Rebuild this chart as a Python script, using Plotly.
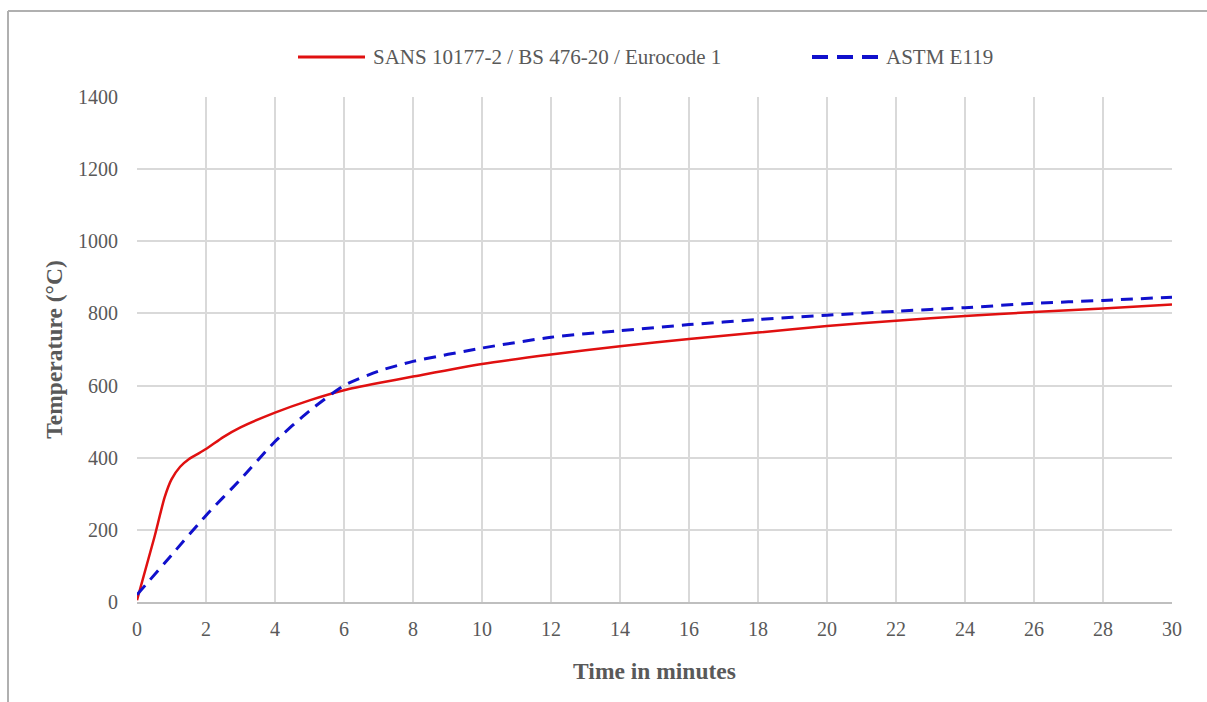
import plotly.graph_objects as go

# Data
red_name = "SANS 10177-2 / BS 476-20 / Eurocode 1"
red_t = [0, 0.5, 0.8, 1.0, 1.25, 1.5, 2, 2.5, 3, 4, 5, 6, 7, 8, 10, 12, 14, 16, 18, 20, 22, 24, 26, 28, 30]
red_T = [5, 178, 290, 340, 375, 396, 424, 457, 484, 525, 559, 587, 607, 625, 660, 686, 709, 729, 747, 765, 780, 793, 804, 814, 825]

blue_name = "ASTM E119"
blue_t = [0, 1, 2, 3, 4, 5, 6, 7, 8, 10, 12, 14, 16, 18, 20, 22, 24, 26, 28, 30]
blue_T = [20, 130, 240, 340, 445, 530, 600, 640, 667, 704, 734, 752, 769, 783, 795, 806, 816, 828, 836, 845]

x_ticks = list(range(0, 31, 2))
y_ticks = list(range(0, 1401, 200))

FONT = "Liberation Serif, Times New Roman, serif"
GRAY = "#595959"
RED = "#e01010"
BLUE = "#1010cc"

# plot area in pixels (for placing the legend / border in paper units)
L, R, T, B = 137, 1172, 97, 602
def px(x):
    return (x - L) / (R - L)
def py(y):
    return (B - y) / (B - T)

fig = go.Figure()
fig.add_trace(go.Scatter(x=red_t, y=red_T, mode="lines", name=red_name, showlegend=False,
                         line=dict(color=RED, width=2.5, shape="spline", smoothing=0.6)))
fig.add_trace(go.Scatter(x=blue_t, y=blue_T, mode="lines", name=blue_name, showlegend=False,
                         line=dict(color=BLUE, width=3, dash="12px,8px", shape="spline", smoothing=0.6)))

fig.update_layout(
    width=1207, height=702,
    margin=dict(l=L, r=1207 - R, t=T, b=702 - B, autoexpand=False),
    paper_bgcolor="white", plot_bgcolor="white",
    font=dict(family=FONT, color=GRAY, size=20),
    showlegend=False,
    xaxis=dict(range=[0, 30], tickvals=x_ticks, showgrid=True, gridcolor="#d9d9d9", gridwidth=2,
               zeroline=False, showline=True, linecolor="#bfbfbf", linewidth=2,
               ticklabelstandoff=8,
               tickfont=dict(size=20, color=GRAY, family=FONT),
               title=dict(text="<b>Time in minutes</b>", standoff=24,
                          font=dict(size=23.5, color=GRAY, family=FONT))),
    yaxis=dict(range=[0, 1400], tickvals=y_ticks, showgrid=True, gridcolor="#d9d9d9", gridwidth=2,
               zeroline=False, showline=False,
               ticklabelstandoff=18,
               tickfont=dict(size=20, color=GRAY, family=FONT),
               title=dict(text="<b>Temperature (°C)</b>", standoff=8,
                          font=dict(size=23.5, color=GRAY, family=FONT))),
)

# legend drawn manually (long line samples as in the reference)
ly = py(57)
fig.add_shape(type="line", xref="paper", yref="paper", x0=px(298), x1=px(365), y0=ly, y1=ly,
              line=dict(color=RED, width=3))
fig.add_annotation(xref="paper", yref="paper", x=px(371), y=ly, text=red_name, showarrow=False,
                   xanchor="left", yanchor="middle", font=dict(size=21, color=GRAY, family=FONT))
fig.add_shape(type="line", xref="paper", yref="paper", x0=px(812), x1=px(880), y0=ly, y1=ly,
              line=dict(color=BLUE, width=4, dash="16px,9px"))
fig.add_annotation(xref="paper", yref="paper", x=px(884), y=ly, text=blue_name, showarrow=False,
                   xanchor="left", yanchor="middle", font=dict(size=21, color=GRAY, family=FONT))

# chart outer border (top and left visible in the crop)
fig.add_shape(type="line", xref="paper", yref="paper", x0=px(8), x1=px(1210), y0=py(11), y1=py(11),
              line=dict(color="#b0b0b0", width=2))
fig.add_shape(type="line", xref="paper", yref="paper", x0=px(8), x1=px(8), y0=py(11), y1=py(705),
              line=dict(color="#b0b0b0", width=2))

fig.write_html("out.html")
